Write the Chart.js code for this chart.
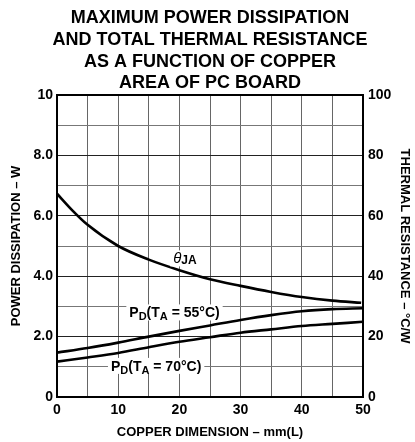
<!DOCTYPE html>
<html><head><meta charset="utf-8">
<script src="https://cdn.jsdelivr.net/npm/chart.js"></script>
<style>html,body{margin:0;padding:0;background:#fff}canvas{display:block}</style>
</head><body>
<canvas id="c" width="415" height="442"></canvas>
<script>
// ---- data ----
const titleLines = ["MAXIMUM POWER DISSIPATION", "AND TOTAL THERMAL RESISTANCE", "AS A FUNCTION OF COPPER", "AREA OF PC BOARD"];
const xAxisTitle = "COPPER DIMENSION \u2013 mm(L)";
const yAxisTitle = "POWER DISSIPATION \u2013 W";
const y2AxisTitle = "THERMAL RESISTANCE \u2013 \u00B0C/W";
const copperMm = [0, 5, 10, 15, 20, 25, 30, 35, 40, 45, 50];
const pd55 = [1.47, 1.62, 1.80, 2.00, 2.19, 2.37, 2.55, 2.71, 2.84, 2.91, 2.94];
const pd70 = [1.17, 1.31, 1.46, 1.65, 1.83, 1.98, 2.13, 2.24, 2.35, 2.42, 2.49];
const thetaX = [0, 2.5, 5, 10, 15, 20, 25, 30, 35, 40, 45, 49.7];
const thetaJA = [67.3, 61.8, 57.0, 50.0, 45.5, 42.0, 39.0, 36.8, 34.8, 33.1, 31.9, 31.2];
const leftTicks = ["0", "2.0", "4.0", "6.0", "8.0", "10"];
const rightTicks = ["0", "20", "40", "60", "80", "100"];
const xTicks = ["0", "10", "20", "30", "40", "50"];
// label anchors (data units: x mm, y W)
const curveLabels = [
  {parts: [["\u03B8", "th"], ["JA", "ja"]], x: 20.9, y: 4.59},
  {parts: [["P", "m"], ["D", "s"], ["(T", "m"], ["A", "s"], [" = 55\u00B0C)", "m"]], x: 19.2, y: 2.80},
  {parts: [["P", "m"], ["D", "s"], ["(T", "m"], ["A", "s"], [" = 70\u00B0C)", "m"]], x: 16.2, y: 1.03}
];

const FF = '"Liberation Sans", Arial, Helvetica, sans-serif';
const pts = (xs, ys) => xs.map((x, i) => ({x: x, y: ys[i]}));

const overlay = {
  id: 'overlay',
  afterDraw(chart) {
    const ctx = chart.ctx, a = chart.chartArea;
    ctx.save();
    // frame
    ctx.strokeStyle = '#000'; ctx.lineWidth = 2;
    ctx.strokeRect(a.left, a.top, a.right - a.left, a.bottom - a.top);
    // title
    ctx.fillStyle = '#000';
    ctx.font = 'bold 18px ' + FF;
    ctx.textAlign = 'center'; ctx.textBaseline = 'alphabetic';
    const cx = (a.left + a.right) / 2;
    const base = [22.7, 44.6, 66.5, 88.2];
    titleLines.forEach((t, i) => ctx.fillText(t, cx, base[i]));
    // curve labels
    const fonts = {m: 'bold 14px ' + FF, s: 'bold 11px ' + FF, th: 'italic 15px ' + FF, ja: 'bold 12px ' + FF};
    const dy = {m: 0, s: 3, th: 0, ja: 1};
    const xs = chart.scales.x, ys = chart.scales.y;
    ctx.textAlign = 'left';
    curveLabels.forEach(l => {
      let w = 0;
      l.parts.forEach(p => { ctx.font = fonts[p[1]]; w += ctx.measureText(p[0]).width; });
      const px = xs.getPixelForValue(l.x), py = ys.getPixelForValue(l.y);
      ctx.fillStyle = '#fff';
      ctx.fillRect(px - w / 2 - 3, py - 8, w + 6, 16);
      ctx.fillStyle = '#000';
      let x = px - w / 2;
      l.parts.forEach(p => {
        ctx.font = fonts[p[1]];
        ctx.fillText(p[0], x, py + 5 + dy[p[1]]);
        x += ctx.measureText(p[0]).width;
      });
    });
    ctx.restore();
  }
};

const tickFont = {family: FF, size: 14, weight: 'bold'};
const axisTitleFont = {family: FF, size: 13, weight: 'bold'};

new Chart(document.getElementById('c'), {
  type: 'line',
  data: {
    datasets: [
      {label: 'thetaJA', data: pts(thetaX, thetaJA), yAxisID: 'y2'},
      {label: 'PD55', data: pts(copperMm, pd55), yAxisID: 'y'},
      {label: 'PD70', data: pts(copperMm, pd70), yAxisID: 'y'}
    ]
  },
  options: {
    responsive: false, animation: false,
    layout: {padding: {top: 95, left: 0, right: 0, bottom: 0}},
    plugins: {legend: {display: false}, tooltip: {enabled: false}, title: {display: false}},
    elements: {
      point: {radius: 0},
      line: {borderWidth: 2.6, borderColor: '#000', fill: false, cubicInterpolationMode: 'monotone'}
    },
    scales: {
      x: {
        type: 'linear', min: 0, max: 50,
        ticks: {stepSize: 5, autoSkip: false, maxRotation: 0, color: '#000', font: tickFont, padding: 5,
          callback: v => (v % 10 === 0 ? xTicks[v / 10] : '')},
        grid: {color: '#666', lineWidth: 1, drawTicks: false},
        border: {display: false},
        title: {display: true, text: xAxisTitle, color: '#000', font: axisTitleFont, padding: {top: 0, bottom: 2}},
        afterFit: s => { s.height = 45; }
      },
      y: {
        type: 'linear', position: 'left', min: 0, max: 10,
        ticks: {stepSize: 1, autoSkip: false, color: '#000', font: tickFont, padding: 4,
          callback: v => (v % 2 === 0 ? leftTicks[v / 2] : '')},
        grid: {color: c => (c.tick && c.tick.value % 2 === 0 ? '#222' : '#777'), lineWidth: 1, drawTicks: false},
        border: {display: false},
        title: {display: true, text: yAxisTitle, color: '#000', font: axisTitleFont, padding: {top: 9, bottom: 0}},
        afterFit: s => { s.width = 57; }
      },
      y2: {
        type: 'linear', position: 'right', min: 0, max: 100,
        ticks: {stepSize: 20, autoSkip: false, color: '#000', font: tickFont, padding: 5,
          callback: v => rightTicks[v / 20]},
        grid: {display: false, drawTicks: false},
        border: {display: false},
        title: {display: true, text: y2AxisTitle, color: '#000', font: axisTitleFont, padding: {top: 3, bottom: 0}},
        afterFit: s => { s.width = 52; }
      }
    }
  },
  plugins: [overlay]
});
</script>
</body></html>
